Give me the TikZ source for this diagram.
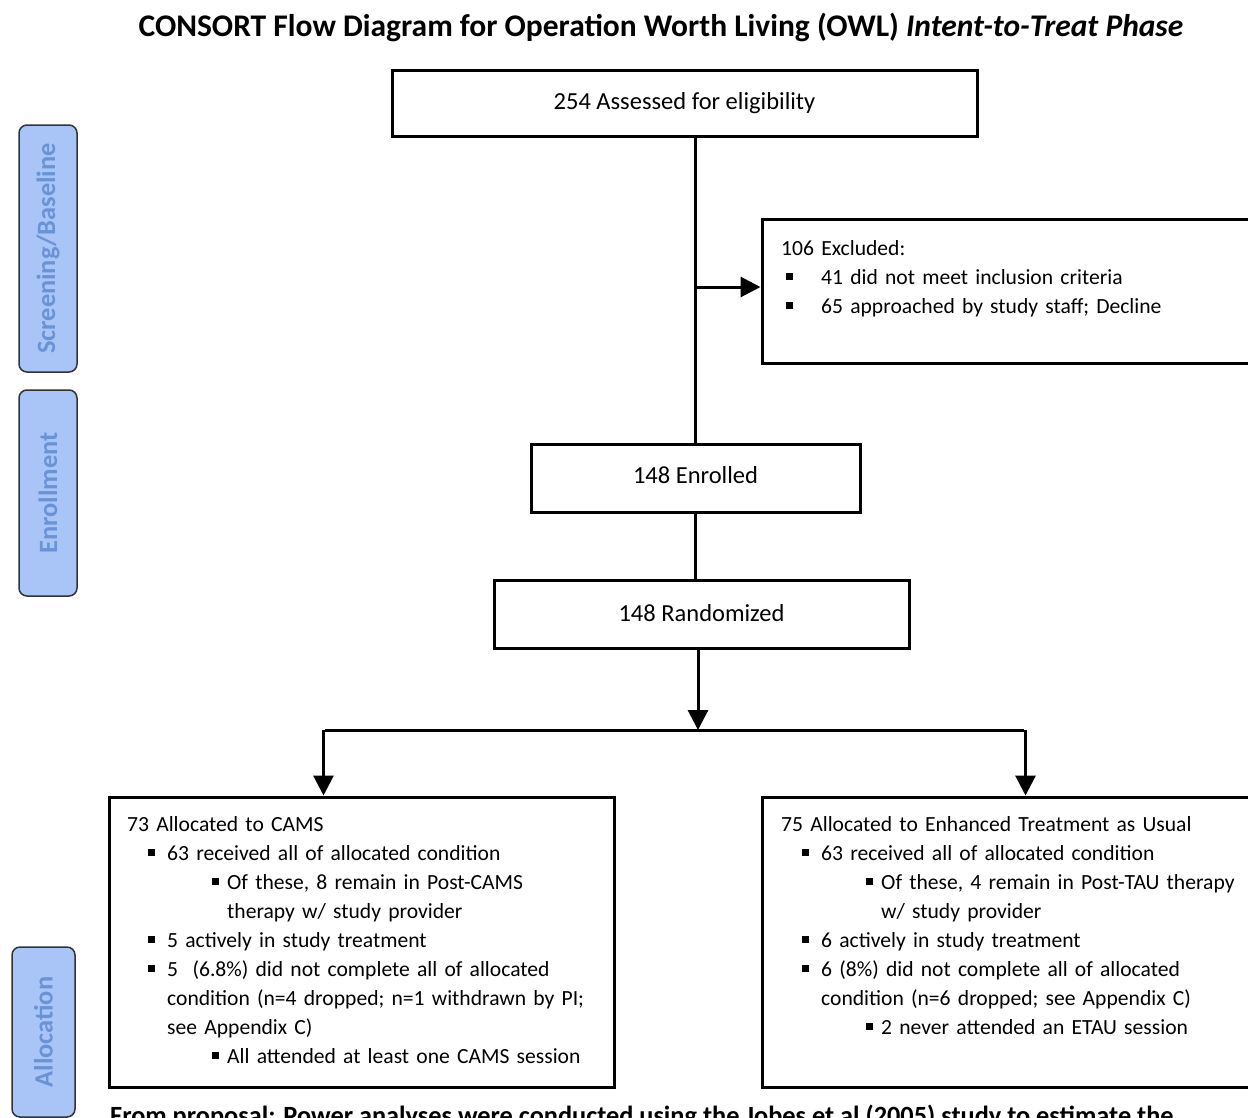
\documentclass[tikz,border=0pt]{standalone}
\usepackage{fontspec}
\setmainfont{Carlito}
\usetikzlibrary{arrows.meta,positioning,calc,fit}
\definecolor{phasefill}{HTML}{A9C5F8}
\definecolor{phasetext}{HTML}{6A93D6}
\newcommand{\sqb}{\rule[4pt]{7pt}{7pt}}
\newcommand{\lone}{\hspace*{21pt}\makebox[19pt][l]{\sqb}}
\newcommand{\lonec}{\hspace*{40pt}}
\newcommand{\ltwo}{\hspace*{85pt}\makebox[15pt][l]{\sqb}}
\newcommand{\ltwoc}{\hspace*{100pt}}
\newcommand{\lex}{\hspace*{5pt}\makebox[35pt][l]{\sqb}}
\tikzset{
  blk/.style={draw, line width=3pt, inner sep=0pt, font=\fontsize{24.5}{29}\selectfont},
  txt/.style={inner sep=0pt, align=left, text width=470pt, font=\fontsize{21.6}{29}\selectfont},
  phase/.style={draw=black!80, line width=1.5pt, fill=phasefill, rounded corners=8pt, inner sep=0pt,
    rotate=90, text=phasetext, font=\fontsize{26.4}{30}\selectfont\bfseries},
  ln/.style={line width=3pt},
  arr/.style={-{Triangle[length=20pt, width=20pt]}, line width=3pt},
}

\begin{document}
\begin{tikzpicture}[x=1pt, y=-1pt]
  \useasboundingbox (0,0) rectangle (1248,1117);
  \node[font=\fontsize{31.5}{36}\selectfont\bfseries] (title) at (661,27)
    {CONSORT Flow Diagram for Operation Worth Living (OWL) \textit{Intent-to-Treat Phase}};
  % phase labels
  \node[phase, minimum width=247pt, minimum height=58pt] (scr) at (48,248.5) {Screening/Baseline};
  \node[phase, minimum width=206pt, minimum height=58pt] (enr) at (48,493) {Enrollment};
  \node[phase, minimum width=170pt, minimum height=63pt] (alc) at (43.5,1032) {Allocation};
  % flow boxes
  \node[blk, minimum width=585pt, minimum height=66pt] (asse) at (684.5,103) {254 Assessed for eligibility};
  \node[blk, fit={(762,219) (1262,363)}] (excl) {};
  \node[txt, anchor=north west] (excltxt) at (781,240)
    {106 Excluded:\\
     \lex 41 did not meet inclusion criteria\\
     \lex 65 approached by study staff; Decline};
  \node[blk, minimum width=329pt, minimum height=68pt, text depth=6pt] (enrl) at (695.5,478) {148 Enrolled};
  \node[blk, minimum width=415pt, minimum height=68pt, text depth=3pt] (rand) at (701.5,614) {148 Randomized};
  \node[blk, fit={(109,797) (614,1087)}] (cams) {};
  \node[txt, anchor=north west] (camstxt) at (127,816)
    {73 Allocated to CAMS\\
     \lone 63 received all of allocated condition\\
     \ltwo Of these, 8 remain in Post-CAMS\\
     \ltwoc therapy w/ study provider\\
     \lone 5 actively in study treatment\\
     \lone 5~~(6.8\%) did not complete all of allocated\\
     \lonec condition (n=4 dropped; n=1 withdrawn by PI;\\
     \lonec see Appendix C)\\
     \ltwo All attended at least one CAMS session};
  \node[blk, fit={(762,797) (1262,1087)}] (etau) {};
  \node[txt, anchor=north west] (etautxt) at (781,816)
    {75 Allocated to Enhanced Treatment as Usual\\
     \lone 63 received all of allocated condition\\
     \ltwo Of these, 4 remain in Post-TAU therapy\\
     \ltwoc w/ study provider\\
     \lone 6 actively in study treatment\\
     \lone 6 (8\%) did not complete all of allocated\\
     \lonec condition (n=6 dropped; see Appendix C)\\
     \ltwo 2 never attended an ETAU session};
  \node[anchor=base west, inner sep=0pt, font=\fontsize{26.3}{30}\selectfont\bfseries] (prop) at (110,1124)
    {From proposal: Power analyses were conducted using the Jobes et al (2005) study to estimate the};
  % connectors
  \coordinate (xsplit) at (enrl.north |- 0,287);
  \coordinate (split) at (698,730);
  \coordinate (lturn) at (325,730);
  \coordinate (rturn) at (1024,730);
  \draw[ln] (enrl.north |- asse.south) -- (enrl.north);
  \draw[arr] (xsplit) -- (xsplit -| excl.west);
  \draw[ln] (enrl.south) -- (enrl.south |- rand.north);
  \draw[arr] (split |- rand.south) -- (split);
  \draw[ln] (lturn) -- (rturn);
  \draw[arr] ([xshift=-1.5pt]lturn) -- ([xshift=-1.5pt]lturn |- cams.north);
  \draw[arr] ([xshift=1.5pt]rturn) -- ([xshift=1.5pt]rturn |- etau.north);
\end{tikzpicture}
\end{document}
